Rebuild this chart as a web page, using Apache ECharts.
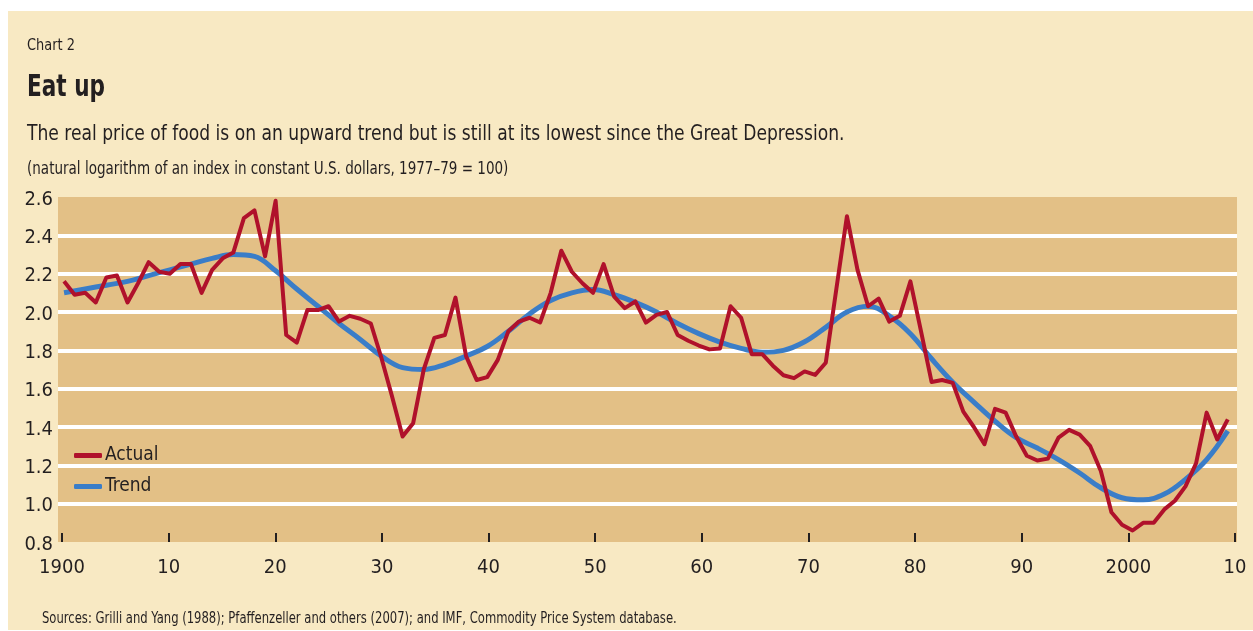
<!DOCTYPE html>
<html>
<head>
<meta charset="utf-8">
<script src="https://cdn.jsdelivr.net/npm/echarts@6/dist/echarts.min.js"></script>
<style>
html,body{margin:0;padding:0;background:#ffffff;}
#chart{width:1253px;height:631px;}
</style>
</head>
<body>
<div id="chart"></div>
<script>
// ---- data ----
const actualStartYear = 1900;
const actualValues = [
  2.16, 2.09, 2.10, 2.05, 2.18, 2.19, 2.05, 2.15, 2.26, 2.21,   // 1900-1909
  2.20, 2.25, 2.25, 2.10, 2.22, 2.28, 2.31, 2.49, 2.53, 2.29,   // 1910-1919
  2.58, 1.88, 1.84, 2.01, 2.01, 2.03, 1.95, 1.98, 1.965, 1.94,  // 1920-1929
  1.76, 1.56, 1.35, 1.42, 1.70, 1.865, 1.88, 2.075, 1.77, 1.645,// 1930-1939
  1.66, 1.75, 1.90, 1.95, 1.97, 1.945, 2.10, 2.32, 2.21, 2.15,  // 1940-1949
  2.10, 2.25, 2.08, 2.02, 2.055, 1.945, 1.985, 2.00, 1.88, 1.85,// 1950-1959
  1.825, 1.805, 1.81, 2.03, 1.97, 1.78, 1.78, 1.72, 1.67, 1.655,// 1960-1969
  1.69, 1.672, 1.735, 2.12, 2.50, 2.22, 2.03, 2.07, 1.95, 1.98, // 1970-1979
  2.16, 1.90, 1.635, 1.645, 1.63, 1.48, 1.40, 1.31, 1.495, 1.475,// 1980-1989
  1.35, 1.25, 1.225, 1.235, 1.345, 1.385, 1.36, 1.30, 1.17, 0.955,// 1990-1999
  0.89, 0.86, 0.90, 0.90, 0.97, 1.015, 1.09, 1.21, 1.475, 1.335,// 2000-2009
  1.44                                                          // 2010
];
const trendYears = [1900,1902,1904,1906,1908,1910,1912,1914,1916,1918,
  1920,1922,1924,1926,1928,1930,1932,1934,1936,1938,
  1940,1942,1944,1946,1948,1950,1952,1954,1956,1958,
  1960,1962,1964,1966,1968,1970,1972,1974,1976,1978,
  1980,1982,1984,1986,1988,1990,1992,1994,1996,1998,
  2000,2002,2004,2006,2008,2010];
const trendValues = [2.10,2.12,2.14,2.16,2.19,2.22,2.25,2.28,2.30,2.29,
  2.215,2.12,2.03,1.94,1.857,1.77,1.71,1.70,1.726,1.77,
  1.82,1.90,1.99,2.06,2.10,2.117,2.09,2.05,2.00,1.94,
  1.887,1.843,1.81,1.79,1.80,1.845,1.92,2.00,2.03,1.98,
  1.887,1.756,1.634,1.53,1.43,1.344,1.29,1.23,1.16,1.083,
  1.031,1.02,1.05,1.127,1.23,1.38];
const tickYears = [1900,1910,1920,1930,1940,1950,1960,1970,1980,1990,2000,2010];
const seriesNames = ['Actual','Trend'];

// ---- texts ----
const chartNo = 'Chart 2';
const titleText = 'Eat up';
const subtitleText = 'The real price of food is on an upward trend but is still at its lowest since the Great Depression.';
const unitText = '(natural logarithm of an index in constant U.S. dollars, 1977–79 = 100)';
const sourceText = 'Sources: Grilli and Yang (1988); Pfaffenzeller and others (2007); and IMF, Commodity Price System database.';

const FONT = "'DejaVu Sans Condensed','Liberation Sans Narrow',sans-serif";
const INK = '#231F20';
const RED = '#B0112B';
const BLUE = '#3A7DC8';

const actualData = actualValues.map((v, i) => [actualStartYear + i, v]);
const trendData = trendYears.map((y, i) => [y, trendValues[i]]);

function label(text, x, y, size, weight, sx) {
  return {
    type: 'text', x: x, y: y, scaleX: sx, originX: 0, originY: 0, silent: true, z: 5,
    style: {text: text, fontFamily: FONT, fontSize: size, fontWeight: weight, fill: INK,
      align: 'left', verticalAlign: 'middle'}
  };
}

const chart = echarts.init(document.getElementById('chart'), null, {renderer: 'canvas'});
chart.setOption({
  backgroundColor: '#ffffff',
  animation: false,
  graphic: [
    {type: 'rect', z: -10, silent: true, shape: {x: 8, y: 11, width: 1245, height: 619},
      style: {fill: '#F8E9C3'}},
    label(chartNo, 27, 46, 16, 'normal', 0.9),
    label(titleText, 27, 88, 30, 'bold', 0.8),
    label(subtitleText, 27, 134, 22, 'normal', 0.866),
    label(unitText, 27, 169.5, 17, 'normal', 0.884),
    label(sourceText, 42, 619, 15, 'normal', 0.86)
  ],
  legend: {
    data: seriesNames,
    orient: 'vertical',
    left: 69, top: 441,
    itemWidth: 28, itemHeight: 5, itemGap: 12,
    icon: 'roundRect',
    textStyle: {fontFamily: FONT, fontSize: 19, color: INK, padding: [0,0,0,-2]}
  },
  grid: {
    left: 58, right: 16, top: 197, bottom: 89,
    show: true, backgroundColor: '#E3C086', borderWidth: 0
  },
  xAxis: [
    {type: 'value', min: 1899.43, max: 2010.87, show: false},
    {
      type: 'value', min: 1899.625, max: 2010.19, position: 'bottom',
      axisLine: {show: false},
      splitLine: {show: false},
      axisTick: {show: true, inside: true, length: 9, customValues: tickYears,
        lineStyle: {color: INK, width: 2}},
      axisLabel: {customValues: tickYears, margin: 16, fontFamily: FONT, fontSize: 20, color: INK,
        formatter: v => (v === 1900 || v === 2000) ? String(v) : String(v % 100).padStart(2, '0')}
    }
  ],
  yAxis: {
    type: 'value', min: 0.8, max: 2.6, interval: 0.2,
    axisLine: {show: false}, axisTick: {show: false},
    axisLabel: {margin: 5, fontFamily: FONT, fontSize: 20, color: INK,
      verticalAlign: 'top', lineHeight: 5,
      formatter: v => v.toFixed(1)},
    splitLine: {show: true, showMinLine: false, showMaxLine: false,
      lineStyle: {color: '#ffffff', width: 4}}
  },
  series: [
    {name: seriesNames[1], type: 'line', xAxisIndex: 0, data: trendData, smooth: 0.4,
      showSymbol: false, color: BLUE, lineStyle: {color: BLUE, width: 5}, z: 2},
    {name: seriesNames[0], type: 'line', xAxisIndex: 0, data: actualData,
      showSymbol: false, color: RED, lineStyle: {color: RED, width: 4, join: 'round'}, z: 3}
  ]
});
</script>
</body>
</html>
